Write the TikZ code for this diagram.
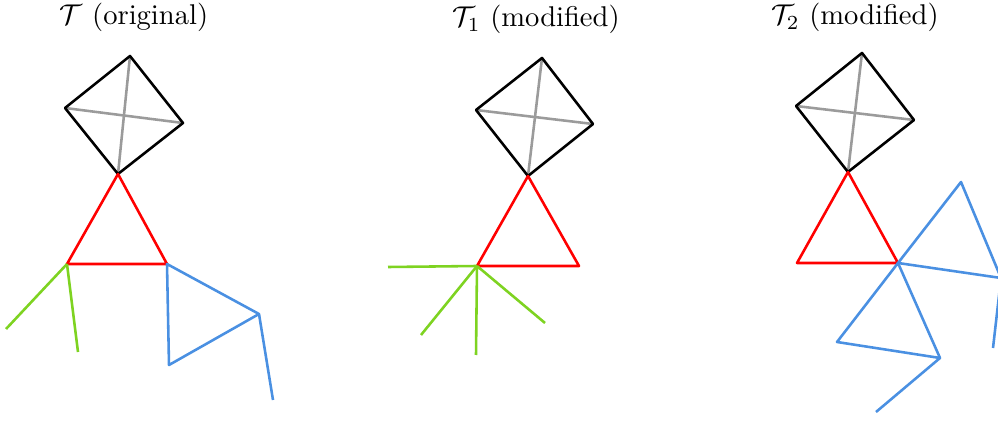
\documentclass[tikz,border=0pt]{standalone}
\definecolor{diaggray}{RGB}{155,155,155}
\definecolor{treegreen}{RGB}{126,211,33}
\definecolor{treeblue}{RGB}{74,144,226}
\tikzset{
  quad/.style={black},
  diag/.style={diaggray},
  core/.style={red},
  leafg/.style={treegreen},
  leafb/.style={treeblue},
  title/.style={anchor=base,inner sep=0pt}
}
\begin{document}
\begin{tikzpicture}[x=0.35pt,y=-0.35pt,line width=0.9pt,line join=round]
\clip (0,0) rectangle (998,421);
\coordinate (a1) at (130,56);
\coordinate (a2) at (65,108);
\coordinate (a3) at (183,123);
\coordinate (a4) at (118,174);
\coordinate (a5) at (67,264);
\coordinate (a6) at (167,264);
\coordinate (a7) at (6,329);
\coordinate (a8) at (78,352);
\coordinate (a9) at (169,365);
\coordinate (a10) at (259,314);
\coordinate (a11) at (273,400);
\draw [diag] (a1) -- (a4);
\draw [diag] (a2) -- (a3);
\draw [quad] (a1) -- (a3) -- (a4) -- (a2) -- cycle;
\draw [core] (a4) -- (a5) -- (a6) -- cycle;
\draw [leafg] (a5) -- (a7);
\draw [leafg] (a5) -- (a8);
\draw [leafb] (a6) -- (a9) -- (a10) -- cycle;
\draw [leafb] (a10) -- (a11);
\node [title] (t0) at (134,25) {$\mathcal{T}$ (original)};
\coordinate (b1) at (542,58);
\coordinate (b2) at (476,110);
\coordinate (b3) at (593,124);
\coordinate (b4) at (528,176);
\coordinate (b5) at (477,266);
\coordinate (b6) at (579,266);
\coordinate (b7) at (388,267);
\coordinate (b8) at (421,335);
\coordinate (b9) at (476,355);
\coordinate (b10) at (545,323);
\draw [diag] (b1) -- (b4);
\draw [diag] (b2) -- (b3);
\draw [quad] (b1) -- (b3) -- (b4) -- (b2) -- cycle;
\draw [core] (b4) -- (b5) -- (b6) -- cycle;
\draw [leafg] (b5) -- (b7);
\draw [leafg] (b5) -- (b8);
\draw [leafg] (b5) -- (b9);
\draw [leafg] (b5) -- (b10);
\node [title] (t1) at (536,27) {$\mathcal{T}_1$ (modified)};
\coordinate (c1) at (862,53);
\coordinate (c2) at (796,106);
\coordinate (c3) at (914,120);
\coordinate (c4) at (848,172);
\coordinate (c5) at (797,263);
\coordinate (c6) at (898,263);
\coordinate (c7) at (961,182);
\coordinate (c8) at (1001,278);
\coordinate (c9) at (993,348);
\coordinate (c10) at (837,342);
\coordinate (c11) at (940,358);
\coordinate (c12) at (876,412);
\draw [diag] (c1) -- (c4);
\draw [diag] (c2) -- (c3);
\draw [quad] (c1) -- (c3) -- (c4) -- (c2) -- cycle;
\draw [core] (c4) -- (c5) -- (c6) -- cycle;
\draw [leafb] (c6) -- (c7) -- (c8) -- cycle;
\draw [leafb] (c8) -- (c9);
\draw [leafb] (c6) -- (c10) -- (c11) -- cycle;
\draw [leafb] (c11) -- (c12);
\node [title] (t2) at (855,25) {$\mathcal{T}_2$ (modified)};
\end{tikzpicture}
\end{document}
